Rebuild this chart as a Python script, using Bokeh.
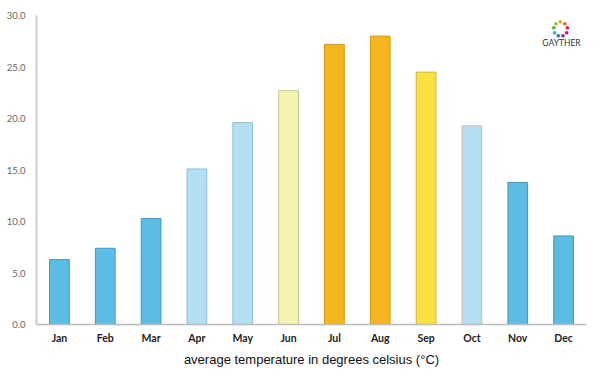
from bokeh.plotting import figure
from bokeh.models import ColumnDataSource, Range1d, FixedTicker, NumeralTickFormatter, Label
from bokeh.embed import file_html
from bokeh.resources import INLINE
import math

months = ["Jan", "Feb", "Mar", "Apr", "May", "Jun", "Jul", "Aug", "Sep", "Oct", "Nov", "Dec"]
temps = [6.3, 7.4, 10.3, 15.1, 19.6, 22.7, 27.2, 28.0, 24.5, 19.3, 13.8, 8.6]
fills = ["#5bbde6", "#5bbde6", "#5bbde6", "#b2e0f2", "#b2e0f2", "#f4f4b0",
         "#f5b51f", "#f5b51f", "#f9e23f", "#b2e0f2", "#5bbde6", "#5bbde6"]
lines = ["#4596b8", "#4596b8", "#4596b8", "#8dbdd0", "#8dbdd0", "#c4c48e",
         "#d4990f", "#d4990f", "#cdb733", "#d9b7b0", "#4596b8", "#4596b8"]
y_ticks = [0, 5, 10, 15, 20, 25, 30]
logo_colors = ["#f7a21b", "#8cc63f", "#39b54a", "#29abe2", "#2e6fb7", "#92278f", "#ec008c", "#ed1c24", "#f15a24"]

src = ColumnDataSource(dict(month=months, temp=temps, fill=fills, line=lines))

p = figure(x_range=months, frame_width=550, frame_height=309, output_backend="svg",
           toolbar_location=None, min_border_left=36, min_border_right=6,
           min_border_top=15, min_border_bottom=0)
p.y_range = Range1d(0, 30)
p.vbar(x="month", top="temp", width=0.43, bottom=0, source=src,
       fill_color="fill", line_color="line", line_width=1)

p.outline_line_color = None
p.grid.grid_line_color = None

p.yaxis.ticker = FixedTicker(ticks=y_ticks)
p.yaxis.formatter = NumeralTickFormatter(format="0.0")
p.yaxis.major_label_text_font = "Lato"
p.yaxis.major_label_text_font_size = "9.5px"
p.yaxis.major_label_text_color = "#666666"
p.yaxis.axis_line_color = "#cccccc"
p.yaxis.axis_line_width = 2
p.yaxis.major_tick_line_color = None
p.yaxis.minor_tick_line_color = None
p.yaxis.major_label_standoff = 5

p.xaxis.axis_line_color = "#bbbbbb"
p.xaxis.axis_line_width = 1.5
p.xaxis.major_tick_line_color = None
p.xaxis.minor_tick_line_color = None
p.xaxis.major_label_text_font = "Lato"
p.xaxis.major_label_text_font_style = "bold"
p.xaxis.major_label_text_font_size = "10.5px"
p.xaxis.major_label_text_color = "#222222"
p.xaxis.major_label_standoff = 1
p.xaxis.axis_label = "average temperature in degrees celsius (°C)"
p.xaxis.axis_label_text_font = "Liberation Sans"
p.xaxis.axis_label_text_font_style = "normal"
p.xaxis.axis_label_text_font_size = "13px"
p.xaxis.axis_label_text_color = "#111111"
p.xaxis.axis_label_standoff = 5

# logo (decoration), screen units relative to the plot frame
cx, cy, r = 524, 296, 7
for i, c in enumerate(logo_colors):
    a = 2 * math.pi * i / len(logo_colors) + math.pi / 2
    p.add_layout(Label(x=cx + r * math.cos(a), y=cy + r * math.sin(a), x_units="screen",
                       y_units="screen", text="●", text_color=c, text_font_size="8px",
                       text_align="center", text_baseline="middle"))
p.add_layout(Label(x=cx + 1, y=cy - 14, x_units="screen", y_units="screen", text="GAYTHER",
                   text_font="Lato", text_font_size="8.5px", text_color="#333333",
                   text_align="center", text_baseline="middle"))

open("out.html", "w").write(file_html(p, INLINE))
